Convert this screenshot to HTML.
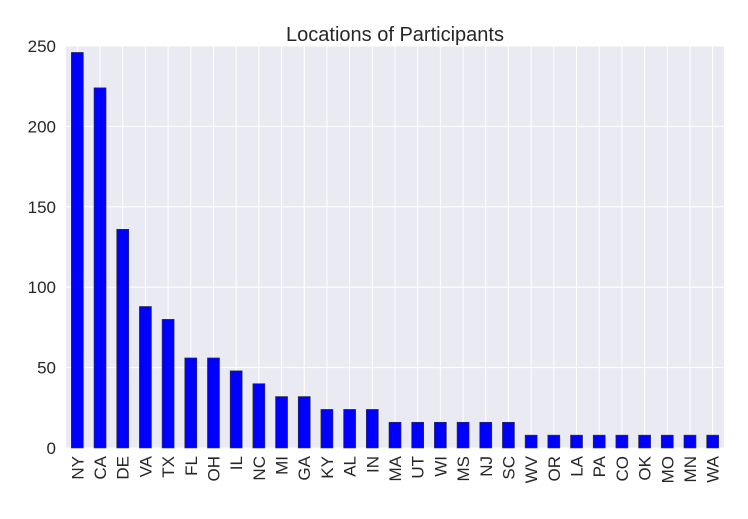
<!DOCTYPE html>
<html><head><meta charset="utf-8"><style>
body{margin:0;background:#fff}
svg text{font-family:"Liberation Sans",sans-serif;fill:#262626}
</style></head><body>
<svg id="chart" width="748" height="514" xmlns="http://www.w3.org/2000/svg">
<rect x="66" y="46" width="658" height="402" fill="#eaeaf2"/>
<g id="grid"></g>
<g id="bars"></g>
<g id="yticks"></g>
<g id="xticks"></g>
<text x="395" y="41" font-size="20" text-anchor="middle">Locations of Participants</text>
</svg>
<script>
const categories=["NY","CA","DE","VA","TX","FL","OH","IL","NC","MI","GA","KY","AL","IN","MA","UT","WI","MS","NJ","SC","WV","OR","LA","PA","CO","OK","MO","MN","WA"];
const values=[246,224,136,88,80,56,56,48,40,32,32,24,24,24,16,16,16,16,16,16,8,8,8,8,8,8,8,8,8];
const yTicks=[0,50,100,150,200,250];
const L=66,R=724,T=46,B=448,ymax=250;
const NS="http://www.w3.org/2000/svg";
const y=v=>B-(v/ymax)*(B-T);
const step=(R-L)/categories.length;
const x=i=>L+step*(i+0.5);
function mk(t,a,p){const e=document.createElementNS(NS,t);for(const k in a)e.setAttribute(k,a[k]);document.getElementById(p).appendChild(e);return e;}
yTicks.forEach(v=>{
 const g=mk('line',{x1:L,x2:R,y1:y(v),y2:y(v),stroke:'#fff','stroke-width':1},'grid');
 
 
 const t=mk('text',{x:L-10,y:y(v)+6,'font-size':17,'text-anchor':'end'},'yticks');
 t.textContent=v;
 
 
});
categories.forEach((c,i)=>{
 const g=mk('line',{x1:x(i),x2:x(i),y1:T,y2:B,stroke:'#fff','stroke-width':1},'grid');
 
 
 const w=step*0.53;
 const b=mk('rect',{x:x(i)-w/2,y:y(values[i]),width:w,height:B-y(values[i]),fill:'#0000ff',stroke:'#333','stroke-width':0.6},'bars');
 
 
 const t=mk('text',{x:0,y:0,'font-size':17,'text-anchor':'end',transform:`translate(${x(i)+6},${B+8}) rotate(-90)`},'xticks');
 t.textContent=c;
 
 
});
</script>
</body></html>
